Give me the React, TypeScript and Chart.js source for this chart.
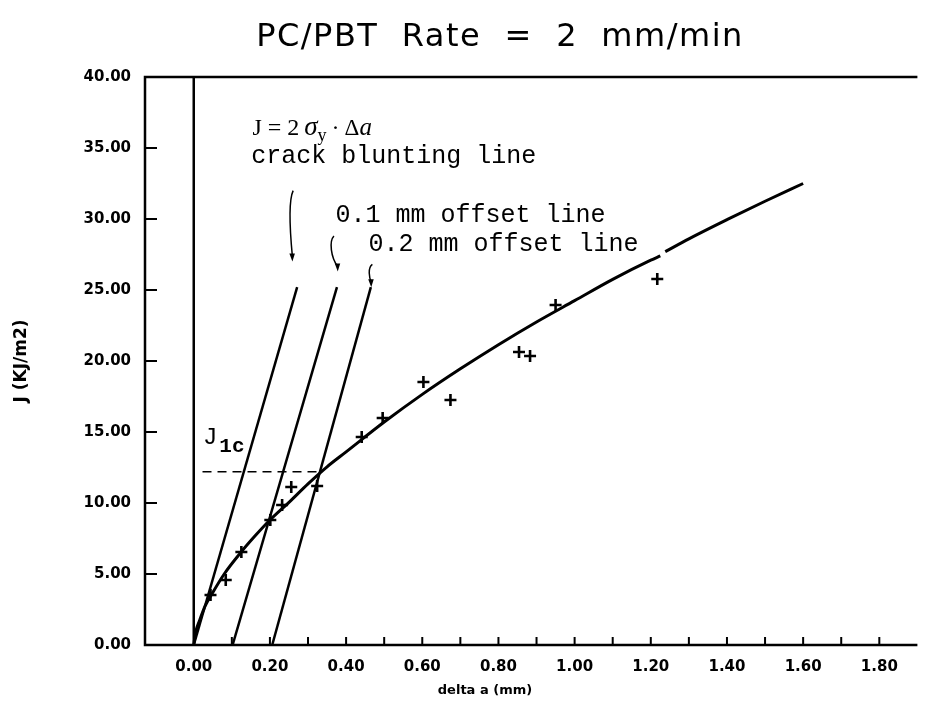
import React, { useEffect, useRef } from "react";
import { Chart, registerables } from "chart.js";

Chart.register(...registerables);

// ---- text ----
const TITLE = "PC/PBT Rate = 2 mm/min";
const X_TITLE = "delta a (mm)";
const Y_TITLE = "J (KJ/m2)";
const BLUNT_LABEL = "crack blunting line";
const OFF1_LABEL = "0.1 mm offset line";
const OFF2_LABEL = "0.2 mm offset line";

// ---- axes ----
const X_MIN = -0.128;
const X_MAX = 1.9;
const Y_MIN = 0;
const Y_MAX = 40;
const xLabelTicks = [0, 0.2, 0.4, 0.6, 0.8, 1.0, 1.2, 1.4, 1.6, 1.8];
const xTickMarks = [0.1, 0.2, 0.3, 0.4, 0.5, 0.6, 0.7, 0.8, 0.9, 1.0, 1.1, 1.2, 1.3, 1.4, 1.5, 1.6, 1.7, 1.8];
const yTicks = [0, 5, 10, 15, 20, 25, 30, 35, 40];

// ---- measured data (delta a in mm, J in kJ/m2) ----
const dataX = [0.044, 0.084, 0.125, 0.201, 0.232, 0.256, 0.324, 0.441, 0.496, 0.603, 0.674, 0.854, 0.883, 0.95, 1.217];
const dataJ = [3.52, 4.58, 6.55, 8.8, 9.86, 11.13, 11.2, 14.65, 15.99, 18.52, 17.25, 20.63, 20.35, 23.94, 25.77];

// ---- fitted J-R curve (null = break in the line) ----
const curveX = [0, 0.005, 0.015, 0.03, 0.05, 0.08, 0.12, 0.16, 0.2, 0.25, 0.3, 0.35, 0.4, 0.5, 0.6, 0.7, 0.8, 0.9, 1.0, 1.1, 1.2, 1.225, 1.23, 1.238, 1.3, 1.4, 1.5, 1.6];
const curveJ = [0, 0.9, 1.7, 2.75, 3.7, 5.0, 6.4, 7.65, 8.8, 10.05, 11.35, 12.55, 13.6, 15.7, 17.65, 19.45, 21.15, 22.75, 24.25, 25.75, 27.1, 27.4, null, 27.7, 28.6, 29.95, 31.25, 32.5];

// ---- construction lines ----
const bluntX = [0, 0.2715];
const bluntJ = [0, 25.2];
const off1X = [0.102, 0.376];
const off1J = [0, 25.2];
const off2X = [0.206, 0.465];
const off2J = [0, 25.2];
const jicX = [0.023, 0.331];
const jicJ = [12.2, 12.2];

// ---- annotation anchors (data units) ----
const formulaAnchor = [0.154, 35.9];
const bluntLabelAnchor = [0.151, 34.4];
const off1LabelAnchor = [0.372, 30.25];
const off2LabelAnchor = [0.459, 28.2];
const jicLabelAnchor = [0.024, 14.6];
// arrows: [x0, y0, x1, y1]
const arrows = [
  [0.261, 32.0, 0.259, 27.0],
  [0.368, 28.8, 0.378, 26.3],
  [0.469, 26.8, 0.466, 25.2],
];

const FONT_SANS = "'DejaVu Sans', sans-serif";
const FONT_MONO = "'Liberation Mono', 'Courier New', monospace";
const FONT_SERIF = "'Liberation Serif', 'Times New Roman', serif";

const pts = (xs: number[], ys: (number | null)[]) => xs.map((x, i) => ({ x, y: ys[i] }));

const decorPlugin = {
  id: "decor",
  beforeDatasetsDraw(chart: any) {
    const { ctx, chartArea, scales } = chart;
    const { left, right, top, bottom } = chartArea;
    const x = scales.x;
    const y = scales.y;
    ctx.save();
    ctx.strokeStyle = "#000";
    ctx.lineCap = "butt";
    ctx.lineWidth = 2.5;
    ctx.beginPath();
    ctx.moveTo(right, top);
    ctx.lineTo(left, top);
    ctx.lineTo(left, bottom);
    ctx.lineTo(right, bottom);
    ctx.stroke();
    // vertical zero line
    const x0 = x.getPixelForValue(0);
    ctx.beginPath();
    ctx.moveTo(x0, bottom);
    ctx.lineTo(x0, top);
    ctx.stroke();
    // tick marks (inward)
    ctx.lineWidth = 2;
    ctx.beginPath();
    xTickMarks.forEach((v) => {
      const px = x.getPixelForValue(v);
      ctx.moveTo(px, bottom);
      ctx.lineTo(px, bottom - 8);
    });
    yTicks.forEach((v) => {
      const py = y.getPixelForValue(v);
      ctx.moveTo(left, py);
      ctx.lineTo(left + 12, py);
    });
    ctx.stroke();
    ctx.restore();
  },
  afterDraw(chart: any) {
    const { ctx, scales } = chart;
    const x = scales.x;
    const y = scales.y;
    const px = (v: number) => x.getPixelForValue(v);
    const py = (v: number) => y.getPixelForValue(v);
    ctx.save();
    ctx.fillStyle = "#000";
    ctx.strokeStyle = "#000";

    // title
    ctx.font = `32px ${FONT_SANS}`;
    ctx.textAlign = "center";
    ctx.textBaseline = "middle";
    (ctx as any).letterSpacing = "1.5px";
    ctx.fillText(TITLE.split(" ").join("  "), 500, 38);
    (ctx as any).letterSpacing = "0px";

    // axis titles
    ctx.font = `bold 13px ${FONT_SANS}`;
    ctx.fillText(X_TITLE, 485, 691);
    ctx.save();
    ctx.translate(22, 361);
    ctx.rotate(-Math.PI / 2);
    ctx.font = `bold 17px ${FONT_SANS}`;
    ctx.fillText(Y_TITLE, 0, 0);
    ctx.restore();

    // formula J = 2 σy · Δa
    ctx.textAlign = "left";
    ctx.textBaseline = "alphabetic";
    let cx = px(formulaAnchor[0]);
    const by = py(formulaAnchor[1]);
    const seg = (t: string, font: string, dy = 0, gap = 0) => {
      ctx.font = font;
      ctx.fillText(t, cx, by + dy);
      cx += ctx.measureText(t).width + gap;
    };
    seg("J = 2", `24px ${FONT_SERIF}`, 0, 5);
    seg("\u03C3", `italic 27px ${FONT_SERIF}`);
    seg("y", `18px ${FONT_SERIF}`, 6, 5);
    seg("\u00B7", `24px ${FONT_SERIF}`, 0, 5);
    seg("\u0394", `23px ${FONT_SERIF}`);
    seg("a", `italic 25px ${FONT_SERIF}`);

    // courier labels
    ctx.textBaseline = "middle";
    ctx.font = `25px ${FONT_MONO}`;
    ctx.fillText(BLUNT_LABEL, px(bluntLabelAnchor[0]), py(bluntLabelAnchor[1]));
    ctx.fillText(OFF1_LABEL, px(off1LabelAnchor[0]), py(off1LabelAnchor[1]));
    ctx.fillText(OFF2_LABEL, px(off2LabelAnchor[0]), py(off2LabelAnchor[1]));

    // J1c
    const jx = px(jicLabelAnchor[0]);
    const jy = py(jicLabelAnchor[1]);
    ctx.font = `24px ${FONT_MONO}`;
    ctx.fillText("J", jx, jy);
    const jw = ctx.measureText("J").width;
    ctx.font = `bold 21px ${FONT_MONO}`;
    ctx.fillText("1c", jx + jw + 2, jy + 9);

    // curly arrows
    ctx.lineWidth = 1.5;
    arrows.forEach(([ax0, ay0, ax1, ay1]) => {
      const x0 = px(ax0), y0 = py(ay0), x1 = px(ax1), y1 = py(ay1);
      const h = y1 - y0;
      ctx.beginPath();
      ctx.moveTo(x0, y0);
      ctx.bezierCurveTo(x0 - 5, y0 + h * 0.15, x0 - 3, y0 + h * 0.6, x1, y1 - 5);
      ctx.stroke();
      ctx.beginPath();
      ctx.moveTo(x1 - 3, y1 - 8);
      ctx.lineTo(x1 + 2.5, y1 - 8);
      ctx.lineTo(x1, y1);
      ctx.closePath();
      ctx.fill();
    });
    ctx.restore();
  },
};

export default function App() {
  const ref = useRef<HTMLCanvasElement | null>(null);
  useEffect(() => {
    document.body.style.margin = "0";
    const canvas = ref.current;
    if (!canvas) return;
    const lineDs = (xs: number[], ys: number[], width: number, extra: any = {}) => ({
      type: "scatter" as const,
      data: pts(xs, ys),
      showLine: true,
      borderColor: "#000",
      borderWidth: width,
      pointRadius: 0,
      fill: false,
      ...extra,
    });
    const chart = new Chart(canvas, {
      type: "scatter",
      data: {
        datasets: [
          lineDs(curveX, curveJ as any, 3, { cubicInterpolationMode: "monotone", spanGaps: false }),
          lineDs(bluntX, bluntJ, 2.5),
          lineDs(off1X, off1J, 2.5),
          lineDs(off2X, off2J, 2.5),
          lineDs(jicX, jicJ, 1.3, { borderDash: [9, 6] }),
          {
            type: "scatter" as const,
            data: pts(dataX, dataJ),
            pointStyle: "cross",
            pointRadius: 6,
            pointBorderWidth: 2.6,
            borderColor: "#000",
            backgroundColor: "#000",
            showLine: false,
          },
        ],
      },
      options: {
        animation: false,
        responsive: false,
        devicePixelRatio: 1,
        layout: { padding: { top: 77, right: 4, left: 0, bottom: 0 } },
        plugins: {
          legend: { display: false },
          title: { display: false },
          tooltip: { enabled: false },
        },
        scales: {
          x: {
            type: "linear",
            min: X_MIN,
            max: X_MAX,
            grid: { display: false, drawTicks: false },
            border: { display: false },
            afterBuildTicks: (s: any) => {
              s.ticks = xLabelTicks.map((v) => ({ value: v }));
            },
            afterFit: (s: any) => {
              s.height = 66;
            },
            ticks: {
              padding: 13,
              color: "#000",
              font: { family: FONT_SANS, weight: "bold", size: 15 },
              callback: (v: any) => Number(v).toFixed(2),
              maxRotation: 0,
              autoSkip: false,
            },
          },
          y: {
            type: "linear",
            min: Y_MIN,
            max: Y_MAX,
            grid: { display: false, drawTicks: false },
            border: { display: false },
            afterBuildTicks: (s: any) => {
              s.ticks = yTicks.map((v) => ({ value: v }));
            },
            afterFit: (s: any) => {
              s.width = 145;
            },
            ticks: {
              padding: 14,
              color: "#000",
              font: { family: FONT_SANS, weight: "bold", size: 15 },
              callback: (v: any) => Number(v).toFixed(2),
              autoSkip: false,
            },
          },
        },
      } as any,
      plugins: [decorPlugin],
    });
    return () => chart.destroy();
  }, []);
  return (
    <div style={{ width: 926, height: 711 }}>
      <canvas ref={ref} width={926} height={711} style={{ display: "block" }} />
    </div>
  );
}
